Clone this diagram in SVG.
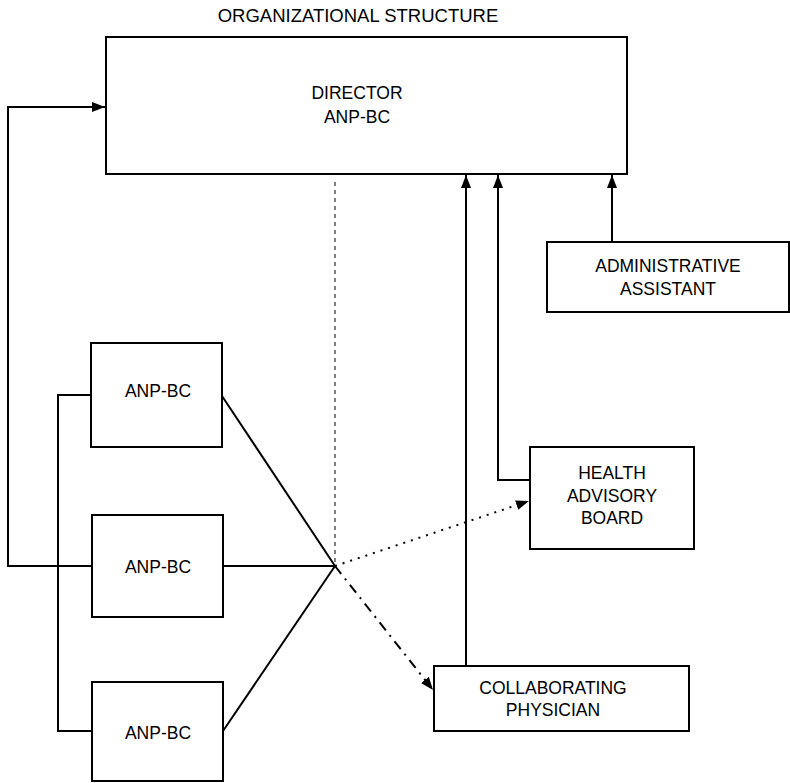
<svg xmlns="http://www.w3.org/2000/svg" width="790" height="783" viewBox="0 0 790 783">
<style>
.box{fill:#fff;stroke:#000;stroke-width:2}
.t{font-family:"Liberation Sans",Arial,sans-serif;font-size:17.5px;fill:#000;text-anchor:middle}
.c{fill:none;stroke:#000;stroke-width:2}
.thin{fill:none;stroke:#000;stroke-width:1}
</style>
<defs>
<marker id="ah" viewBox="0 0 13 10" refX="13" refY="5" markerWidth="13" markerHeight="10" markerUnits="userSpaceOnUse" orient="auto">
<path d="M0,0 L13,5 L0,10 z" fill="#000"/>
</marker>
</defs>
<rect width="790" height="783" fill="#fff"/>
<text class="t" x="358" y="22" style="font-size:18.5px">ORGANIZATIONAL STRUCTURE</text>
<g id="connectors">
<path class="c" d="M92,566 H8 V107 H105" marker-end="url(#ah)"/>
<path class="c" d="M91,395 H58 V731 H92"/>
<path class="c" d="M222,396 L335,566"/>
<path class="c" d="M223,566 H335"/>
<path class="c" d="M223,731 L335,566"/>
<path class="thin" d="M335,182 V566" stroke-dasharray="4 4"/>
<path class="c" d="M335,566 L529,501" stroke-dasharray="2 6" stroke-width="1.8" marker-end="url(#ah)"/>
<path class="c" d="M335,566 L433,690" stroke-dasharray="10 6 2 6" stroke-width="1.8" marker-end="url(#ah)"/>
<path class="c" d="M466,666 V175" marker-end="url(#ah)"/>
<path class="c" d="M530,480 H498 V175" marker-end="url(#ah)"/>
<path class="c" d="M612,242 V175" marker-end="url(#ah)"/>
</g>
<g id="director">
<rect class="box" x="106" y="37" width="521" height="137"/>
<text class="t" x="357" y="99">DIRECTOR</text>
<text class="t" x="357" y="123">ANP-BC</text>
</g>
<g id="admin">
<rect class="box" x="547" y="242" width="242" height="70"/>
<text class="t" x="668" y="272">ADMINISTRATIVE</text>
<text class="t" x="668" y="295">ASSISTANT</text>
</g>
<g id="hab">
<rect class="box" x="530" y="447" width="164" height="102"/>
<text class="t" x="612" y="479">HEALTH</text>
<text class="t" x="612" y="502">ADVISORY</text>
<text class="t" x="612" y="524">BOARD</text>
</g>
<g id="physician">
<rect class="box" x="434" y="666" width="255" height="65"/>
<text class="t" x="553" y="694">COLLABORATING</text>
<text class="t" x="553" y="716">PHYSICIAN</text>
</g>
<g id="anp1">
<rect class="box" x="91" y="343" width="131" height="104"/>
<text class="t" x="158" y="397">ANP-BC</text>
</g>
<g id="anp2">
<rect class="box" x="92" y="515" width="131" height="102"/>
<text class="t" x="158" y="573">ANP-BC</text>
</g>
<g id="anp3">
<rect class="box" x="92" y="682" width="131" height="99"/>
<text class="t" x="158" y="739">ANP-BC</text>
</g>
</svg>
